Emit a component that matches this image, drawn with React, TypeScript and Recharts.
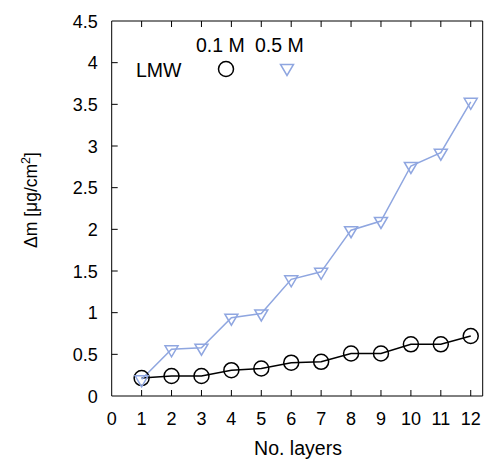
import { ComposedChart, Line, XAxis, YAxis } from "recharts";

const layers = [1, 2, 3, 4, 5, 6, 7, 8, 9, 10, 11, 12];
const conc01 = [0.215, 0.24, 0.24, 0.31, 0.33, 0.4, 0.41, 0.51, 0.51, 0.62, 0.62, 0.72];
const conc05 = [0.2, 0.56, 0.58, 0.94, 0.99, 1.4, 1.49, 1.99, 2.1, 2.76, 2.92, 3.53];
const xTicks = [0, 1, 2, 3, 4, 5, 6, 7, 8, 9, 10, 11, 12];
const yTicks = [0, 0.5, 1, 1.5, 2, 2.5, 3, 3.5, 4, 4.5];

const data = layers.map((n, i) => ({ n, a: conc01[i], b: conc05[i] }));

const FONT = "'Liberation Sans', Arial, sans-serif";
const BLUE = "#8fa6e0";
const TICK = 6;

const Circle = (p: any) =>
  p.cx == null ? null : (
    <circle key={p.index} cx={p.cx} cy={p.cy} r={7.5} fill="none" stroke="#000" strokeWidth={1.5} />
  );

const Tri = (p: any) => {
  if (p.cx == null) return null;
  const { cx, cy } = p;
  return (
    <polygon
      key={p.index}
      points={`${cx - 6.5},${cy - 3.5} ${cx + 6.5},${cy - 3.5} ${cx},${cy + 7.5}`}
      fill="none"
      stroke={BLUE}
      strokeWidth={1.5}
    />
  );
};

const bottomTick = ({ x, y, payload }: any) => (
  <g>
    {payload.value > 0 && <path d={`M${x},${y}V${y - TICK}`} stroke="#000" strokeWidth={1} />}
    <text x={x} y={y + 28.5} textAnchor="middle" fontSize={18} fontFamily={FONT} fill="#000">
      {payload.value}
    </text>
  </g>
);

const topTick = ({ x, y, payload }: any) =>
  payload.value > 0 ? <path d={`M${x},${y}V${y + TICK}`} stroke="#000" strokeWidth={1} /> : <g />;

const leftTick = ({ x, y, payload }: any) => (
  <g>
    {payload.value > 0 && payload.value < 4.5 && (
      <path d={`M${x},${y}H${x + TICK}`} stroke="#000" strokeWidth={1} />
    )}
    <text x={x - 14} y={y + 6.5} textAnchor="end" fontSize={18} fontFamily={FONT} fill="#000">
      {payload.value}
    </text>
  </g>
);

const rightTick = ({ x, y, payload }: any) =>
  payload.value > 0 && payload.value < 4.5 ? (
    <path d={`M${x},${y}H${x - TICK}`} stroke="#000" strokeWidth={1} />
  ) : (
    <g />
  );

export default function App() {
  return (
    <div style={{ position: "absolute", left: 0, top: 0, width: 485, height: 459, background: "#fff" }}>
      <ComposedChart width={485} height={459} data={data} margin={{ top: 20, right: 1.3, bottom: 0, left: 0 }}>
        <XAxis
          xAxisId="b"
          dataKey="n"
          type="number"
          domain={[0, 12.4]}
          ticks={xTicks}
          interval={0}
          height={63}
          tickSize={0}
          tickMargin={0}
          tickLine={false}
          axisLine={true}
          stroke="#000"
          tick={bottomTick}
        />
        <XAxis
          xAxisId="t"
          orientation="top"
          dataKey="n"
          type="number"
          domain={[0, 12.4]}
          ticks={xTicks}
          interval={0}
          height={1}
          tickSize={0}
          tickMargin={0}
          tickLine={false}
          axisLine={true}
          stroke="#000"
          tick={topTick}
        />
        <YAxis
          yAxisId="l"
          type="number"
          domain={[0, 4.5]}
          ticks={yTicks}
          interval={0}
          width={111.7}
          tickSize={0}
          tickMargin={0}
          tickLine={false}
          axisLine={true}
          stroke="#000"
          tick={leftTick}
        />
        <YAxis
          yAxisId="r"
          orientation="right"
          type="number"
          domain={[0, 4.5]}
          ticks={yTicks}
          interval={0}
          width={1}
          tickSize={0}
          tickMargin={0}
          tickLine={false}
          axisLine={true}
          stroke="#000"
          tick={rightTick}
        />
        <Line
          xAxisId="b"
          yAxisId="l"
          dataKey="a"
          stroke="#000"
          strokeWidth={1.5}
          dot={Circle}
          activeDot={false}
          isAnimationActive={false}
        />
        <Line
          xAxisId="b"
          yAxisId="l"
          dataKey="b"
          stroke={BLUE}
          strokeWidth={1.5}
          dot={Tri}
          activeDot={false}
          isAnimationActive={false}
        />
      </ComposedChart>
      <svg
        width={485}
        height={459}
        style={{ position: "absolute", left: 0, top: 0, pointerEvents: "none" }}
      >
        <g fontFamily={FONT} fontSize={19.5} fill="#000">
          <text x={196} y={52}>0.1 M</text>
          <text x={255} y={52}>0.5 M</text>
          <text x={136} y={77}>LMW</text>
          <text x={298} y={455} textAnchor="middle">No. layers</text>
          <text
            x={37}
            y={200}
            transform="rotate(-90 37 200)"
            textAnchor="middle"
            fontSize={17.5}
          >
            Δm [μg/cm<tspan dy={-7} fontSize={12.5}>2</tspan>
            <tspan dy={7}>]</tspan>
          </text>
        </g>
        <circle cx={226} cy={69} r={7.5} fill="none" stroke="#000" strokeWidth={1.5} />
        <polygon points="280.5,64.5 293.5,64.5 287,75.5" fill="none" stroke={BLUE} strokeWidth={1.5} />
      </svg>
    </div>
  );
}
